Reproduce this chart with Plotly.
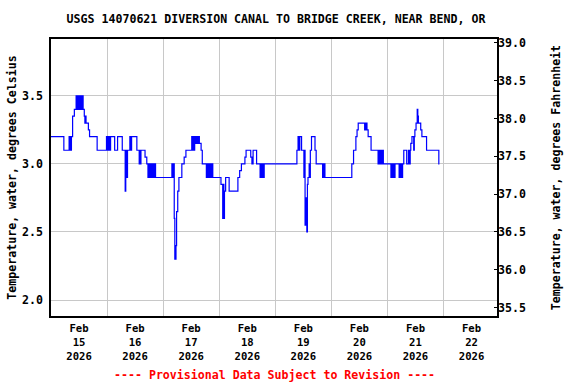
import pandas as pd
import plotly.graph_objects as go

title = "USGS 14070621 DIVERSION CANAL TO BRIDGE CREEK, NEAR BEND, OR"
start = pd.Timestamp("2026-02-15 00:00")

# hours since Feb 15 00:00 at which the value changes (10 per row) ...
hours = [
    0, 5.5, 7.75, 8.0, 8.25, 8.5, 8.75, 9.25, 10.0, 10.75,
    11.25, 11.5, 12.0, 12.25, 12.75, 13.0, 13.25, 13.5, 13.75, 14.25,
    14.5, 14.75, 15.0, 16.0, 16.5, 19.75, 23.75, 24.25, 24.5, 25.0,
    25.5, 27.25, 28.5, 30.5, 31.75, 32.0, 32.5, 32.75, 33.75, 34.25,
    34.5, 36.75, 37.75, 38.0, 38.25, 38.5, 40.25, 41.0, 41.5, 41.75,
    42.0, 42.5, 42.75, 43.25, 43.5, 44.0, 44.25, 44.5, 44.75, 51.75,
    52.0, 52.25, 52.75, 53.0, 53.5, 53.75, 54.25, 54.75, 56.0, 57.0,
    57.75, 60.25, 60.5, 60.75, 61.25, 61.5, 62.0, 62.25, 62.75, 63.0,
    63.5, 64.25, 64.75, 66.5, 66.75, 67.0, 67.25, 67.75, 68.0, 68.5,
    68.75, 69.25, 72.75, 73.5, 73.75, 74.0, 74.25, 74.75, 76.25, 80.0,
    80.75, 81.5, 83.0, 83.5, 85.5, 86.0, 86.5, 88.0, 89.5, 89.75,
    90.0, 90.25, 90.75, 91.25, 105.25, 105.75, 106.25, 106.5, 107.25, 108.25,
    108.5, 108.75, 109.25, 109.5, 109.75, 110.0, 110.5, 110.75, 111.0, 111.5,
    113.0, 113.5, 116.25, 116.5, 116.75, 117.0, 117.25, 128.75, 129.5, 130.5,
    131.0, 131.5, 134.25, 134.75, 135.25, 135.75, 137.0, 140.0, 140.5, 140.75,
    141.25, 141.5, 141.75, 142.25, 145.5, 145.75, 146.0, 146.5, 146.75, 147.25,
    149.0, 149.25, 149.5, 150.0, 150.25, 150.5, 151.0, 152.25, 153.0, 153.25,
    153.75, 154.0, 154.5, 155.25, 155.5, 155.75, 156.25, 156.75, 157.0, 157.25,
    158.25, 158.75, 160.75, 166.0, 166.25,
]
# ... and the water temperature (deg C) from that time on (same row layout)
temp_c = [
    3.2, 3.1, 3.2, 3.1, 3.2, 3.1, 3.2, 3.35, 3.4, 3.5,
    3.4, 3.5, 3.4, 3.5, 3.4, 3.5, 3.4, 3.5, 3.4, 3.35,
    3.3, 3.35, 3.3, 3.25, 3.2, 3.1, 3.2, 3.1, 3.2, 3.1,
    3.2, 3.1, 3.2, 3.1, 2.8, 3.1, 2.9, 3.1, 3.2, 3.1,
    3.2, 3.1, 3.0, 3.1, 3.0, 3.1, 3.05, 3.0, 2.9, 3.0,
    2.9, 3.0, 2.9, 3.0, 2.9, 3.0, 2.9, 3.0, 2.9, 3.0,
    2.9, 3.0, 2.6, 2.3, 2.4, 2.65, 2.8, 2.9, 3.0, 3.05,
    3.1, 3.2, 3.1, 3.2, 3.1, 3.2, 3.15, 3.2, 3.15, 3.2,
    3.15, 3.1, 3.0, 2.9, 3.0, 2.9, 3.0, 2.9, 3.0, 2.9,
    3.0, 2.9, 2.85, 2.6, 2.85, 2.6, 2.8, 2.9, 2.8, 2.9,
    2.95, 3.0, 3.05, 3.1, 3.05, 3.0, 3.1, 3.0, 2.9, 3.0,
    2.9, 3.0, 2.9, 3.0, 3.1, 3.2, 3.1, 3.2, 3.1, 2.9,
    3.1, 2.55, 2.75, 2.5, 2.85, 2.9, 3.0, 2.9, 3.1, 3.2,
    3.1, 3.0, 2.9, 3.0, 2.9, 3.0, 2.9, 3.0, 3.1, 3.2,
    3.25, 3.3, 3.25, 3.3, 3.25, 3.2, 3.1, 3.0, 3.1, 3.0,
    3.1, 3.0, 3.1, 3.0, 2.9, 3.0, 2.9, 3.0, 2.9, 3.0,
    2.9, 3.0, 2.9, 3.0, 2.9, 3.0, 3.1, 3.0, 3.1, 3.0,
    3.1, 3.15, 3.2, 3.1, 3.2, 3.25, 3.3, 3.4, 3.35, 3.3,
    3.25, 3.2, 3.1, 3.0, 3.0,
]

day_numbers = ["15", "16", "17", "18", "19", "20", "21", "22"]
left_ticks = [2.0, 2.5, 3.0, 3.5]
right_ticks = [35.5, 36.0, 36.5, 37.0, 37.5, 38.0, 38.5, 39.0]
y_range_c = [1.883, 3.917]

times = start + pd.to_timedelta(hours, unit="h")
temp_f = [c * 1.8 + 32 for c in temp_c]

tick_noon = [start + pd.Timedelta(days=i, hours=12) for i in range(len(day_numbers))]
tick_text = [f"Feb<br>{d}<br>2026" for d in day_numbers]
midnights = [start + pd.Timedelta(days=i) for i in range(1, len(day_numbers))]

FONT = "DejaVu Sans Mono"
fs = 11.6
bold = dict(family=FONT, size=fs, color="black", weight="bold")

fig = go.Figure()
fig.add_trace(go.Scatter(
    x=times, y=temp_c, mode="lines", line=dict(color="#0000FF", width=1.2, shape="hv"),
    showlegend=False, hoverinfo="skip"))
fig.add_trace(go.Scatter(
    x=times, y=temp_f, mode="lines", line=dict(color="rgba(0,0,0,0)", width=0, shape="hv"),
    yaxis="y2", showlegend=False, hoverinfo="skip"))

fig.update_layout(
    width=576, height=384,
    margin=dict(l=51, r=79, t=39, b=68, autoexpand=False),
    paper_bgcolor="white", plot_bgcolor="white",
    font=bold,
    title=dict(text=title, x=276 / 576, xref="container", xanchor="center",
               y=1 - 19 / 384, yref="container", yanchor="middle", font=bold),
    xaxis=dict(
        range=[start, start + pd.Timedelta(hours=190.9)], automargin=False,
        tickmode="array", tickvals=tick_noon, ticktext=tick_text,
        showgrid=False, ticks="outside", ticklen=2, tickcolor="rgba(0,0,0,0)",
        showline=True, linecolor="black", linewidth=1.5,
        mirror=True, zeroline=False,
        minor=dict(tickmode="array", tickvals=midnights, showgrid=True,
                   gridcolor="#c8c8c8", gridwidth=1, ticks=""),
        tickfont=dict(family=FONT, size=10.6, color="black", weight="bold"),
    ),
    yaxis=dict(
        range=y_range_c, tickmode="array", tickvals=left_ticks, tickformat=".1f",
        automargin=False,
        showgrid=True, gridcolor="#c8c8c8", gridwidth=1, zeroline=False,
        showline=True, linecolor="black", linewidth=1.5, mirror=True,
        ticks="outside", ticklen=4, tickcolor="rgba(0,0,0,0)",
        title=dict(text="Temperature, water, degrees Celsius", font=bold, standoff=3),
        tickfont=bold,
    ),
    yaxis2=dict(
        range=[v * 1.8 + 32 for v in y_range_c], overlaying="y", side="right", anchor="x",
        automargin=False,
        tickmode="array", tickvals=right_ticks, tickformat=".1f", showgrid=False,
        zeroline=False, showline=False, ticks="inside", ticklen=3, tickcolor="black",
        title=dict(text="Temperature, water, degrees Fahrenheit", font=bold, standoff=26),
        tickfont=bold,
    ),
    annotations=[dict(
        text="---- Provisional Data Subject to Revision ----",
        x=0.5, xref="paper", y=(316 - 375) / 277, yref="paper",
        xanchor="center", yanchor="middle", showarrow=False,
        font=dict(family=FONT, size=fs, color="#FF0000", weight="bold"))],
)

fig.write_html("out.html", config={"displayModeBar": False},
               post_script="document.body.style.margin='0';")
